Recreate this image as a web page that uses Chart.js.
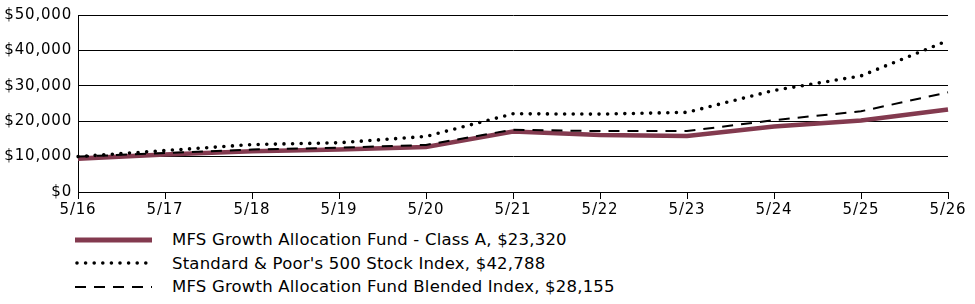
<!DOCTYPE html>
<html>
<head>
<meta charset="utf-8">
<script src="https://cdn.jsdelivr.net/npm/chart.js@4.4.1/dist/chart.umd.min.js"></script>
<style>
  html, body { margin: 0; padding: 0; background: #fff; }
  #wrap { position: relative; width: 975px; height: 225px; }
  #legend { margin: 3px 0 0 75px; font-family: "DejaVu Sans", Verdana, sans-serif; font-size: 16.5px; letter-spacing: 0.2px; color: #000; }
  .row { display: flex; align-items: center; height: 23.5px; white-space: nowrap; }
  .row svg { width: 80px; height: 12px; margin-right: 17px; flex: none; }
</style>
</head>
<body>
<div id="wrap"><canvas id="myChart" width="975" height="225"></canvas></div>
<div id="legend"></div>
<script>
// years on the x axis
let labels = ['5/16', '5/17', '5/18', '5/19', '5/20', '5/21', '5/22', '5/23', '5/24', '5/25', '5/26'];
// values
let fundValues = [9425, 10600, 11500, 12000, 12700, 17100, 16100, 15800, 18500, 20200, 23320];
let spValues = [10000, 11700, 13400, 13900, 15700, 22100, 22000, 22500, 28700, 32800, 42788];
let blendedValues = [10000, 11000, 12000, 12500, 13300, 17600, 17200, 17200, 20300, 22800, 28155];
let yTicks = [0, 10000, 20000, 30000, 40000, 50000];
let seriesNames = [
    'MFS Growth Allocation Fund - Class A, $23,320',
    "Standard & Poor's 500 Stock Index, $42,788",
    'MFS Growth Allocation Fund Blended Index, $28,155'
];

let fontFamily = '"DejaVu Sans", Verdana, sans-serif';
let ctx = document.getElementById('myChart').getContext('2d');

// the original labels are a bit wider than DejaVu, so space them out a little
let spacing = {
    id: 'spacing',
    beforeInit: function (chart) { chart.ctx.letterSpacing = '0.8px'; },
    beforeDraw: function (chart) { chart.ctx.letterSpacing = '0.8px'; }
};

let myChart = new Chart(ctx, {
    type: 'line',
    data: {
        labels: labels,
        datasets: [
            {
                label: seriesNames[2],
                data: blendedValues,
                borderColor: '#000',
                borderWidth: 2,
                borderDash: [11, 8],
                pointRadius: 0,
                tension: 0
            },
            {
                label: seriesNames[1],
                data: spValues,
                borderColor: '#000',
                borderWidth: 3.6,
                borderDash: [0, 8.6],
                borderCapStyle: 'round',
                pointRadius: 0,
                tension: 0
            },
            {
                label: seriesNames[0],
                data: fundValues,
                borderColor: '#833a4f',
                borderWidth: 4.6,
                pointRadius: 0,
                tension: 0
            }
        ]
    },
    plugins: [spacing],
    options: {
        responsive: false,
        animation: false,
        layout: { padding: { top: 13, right: 27, left: 0, bottom: 0 } },
        plugins: {
            legend: { display: false },
            tooltip: { enabled: false }
        },
        scales: {
            x: {
                offset: false,
                grid: {
                    drawOnChartArea: false,
                    drawTicks: true,
                    tickLength: 7,
                    color: '#000',
                    lineWidth: 1
                },
                border: { color: '#000', width: 1 },
                ticks: {
                    color: '#000',
                    font: { family: fontFamily, size: 15 },
                    padding: 2,
                    maxRotation: 0,
                    autoSkip: false
                },
                afterFit: function (scale) { scale.height = 33; }
            },
            y: {
                min: 0,
                max: 50000,
                afterBuildTicks: function (scale) {
                    scale.ticks = yTicks.map(v => ({ value: v }));
                },
                grid: {
                    color: '#000',
                    lineWidth: 1,
                    drawTicks: false
                },
                border: { color: '#000', width: 1 },
                ticks: {
                    color: '#000',
                    font: { family: fontFamily, size: 15 },
                    padding: 6,
                    callback: function (value) {
                        return '$' + value.toLocaleString('en-US');
                    }
                },
                afterFit: function (scale) { scale.width = 78; }
            }
        }
    }
});

// legend under the chart
let legendStyles = [
    '<line x1="0" y1="6" x2="77" y2="6" stroke="#833a4f" stroke-width="5"/>',
    '<line x1="2" y1="6" x2="77" y2="6" stroke="#000" stroke-width="3.6" stroke-dasharray="0 8.6" stroke-linecap="round"/>',
    '<line x1="0" y1="6" x2="77" y2="6" stroke="#000" stroke-width="2" stroke-dasharray="11 8"/>'
];
let legend = document.getElementById('legend');
seriesNames.forEach(function (name, i) {
    let row = document.createElement('div');
    row.className = 'row';
    row.innerHTML = '<svg viewBox="0 0 80 12">' + legendStyles[i] + '</svg><span>' + name.replace('&', '&amp;') + '</span>';
    legend.appendChild(row);
});
</script>
</body>
</html>
